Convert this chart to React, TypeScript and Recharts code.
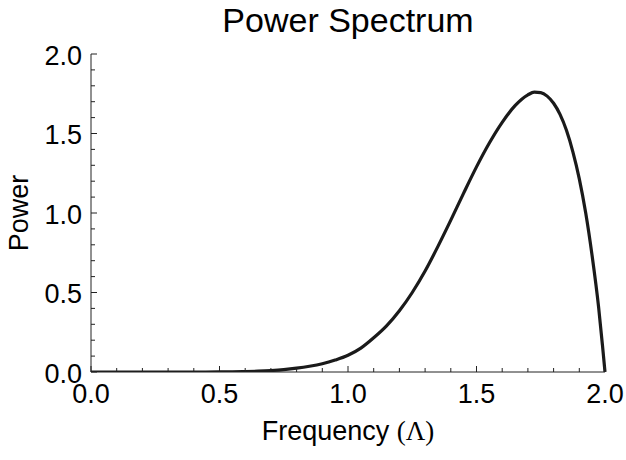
import React from 'react';
import { Line, LineChart, XAxis, YAxis } from 'recharts';

const frequency = [
  0, 0.1, 0.2, 0.3, 0.4, 0.5, 0.55, 0.6, 0.65, 0.7, 0.75, 0.8, 0.85, 0.9, 0.95, 1.0, 1.05, 1.1, 1.15, 1.2,
  1.25, 1.3, 1.35, 1.4, 1.45, 1.5, 1.55, 1.6, 1.65, 1.7, 1.725, 1.75, 1.775, 1.8, 1.825, 1.85, 1.875, 1.9,
  1.925, 1.95, 1.975, 1.99, 2.0,
];
const power = [
  0, 0, 0, 0, 0, 0.0005, 0.001, 0.0025, 0.005, 0.009, 0.015, 0.024, 0.036, 0.052, 0.075, 0.105, 0.15, 0.215,
  0.29, 0.385, 0.5, 0.635, 0.79, 0.955, 1.125, 1.29, 1.44, 1.57, 1.675, 1.743, 1.76, 1.757, 1.735, 1.69, 1.62,
  1.52, 1.385, 1.215, 1.0, 0.73, 0.41, 0.17, 0,
];

const xTicks = [0, 0.1, 0.2, 0.3, 0.4, 0.5, 0.6, 0.7, 0.8, 0.9, 1.0, 1.1, 1.2, 1.3, 1.4, 1.5, 1.6, 1.7, 1.8, 1.9, 2.0];
const yTicks = [0, 0.1, 0.2, 0.3, 0.4, 0.5, 0.6, 0.7, 0.8, 0.9, 1.0, 1.1, 1.2, 1.3, 1.4, 1.5, 1.6, 1.7, 1.8, 1.9, 2.0];
const majorTicks = [0, 0.5, 1.0, 1.5, 2.0];

const data = frequency.map((f, i) => ({ f, p: power[i] }));

const FONT = '"Liberation Sans", Arial, Helvetica, sans-serif';
const AXIS = '#222';
const MAJOR = 6;
const MINOR = 4;

const isMajor = (v: number) => majorTicks.some(m => Math.abs(m - v) < 1e-6);

const BottomTick = ({ x, y, payload }: any) => {
  const major = isMajor(payload.value);
  return (
    <g>
      <line x1={x} x2={x} y1={y} y2={y - (major ? MAJOR : MINOR)} stroke={AXIS} />
      {major && (
        <text x={x} y={y + 31} textAnchor="middle" fontFamily={FONT} fontSize={27} fill="#000">
          {payload.value.toFixed(1)}
        </text>
      )}
    </g>
  );
};

const TopTick = ({ x, y, payload }: any) => {
  const major = isMajor(payload.value);
  return <line x1={x} x2={x} y1={y} y2={y + (major ? MAJOR : MINOR)} stroke={AXIS} />;
};

const LeftTick = ({ x, y, payload }: any) => {
  const major = isMajor(payload.value);
  return (
    <g>
      <line x1={x} x2={x + (major ? MAJOR : MINOR)} y1={y} y2={y} stroke={AXIS} />
      {major && (
        <text x={x - 9} y={y + 10.5} textAnchor="end" fontFamily={FONT} fontSize={27} fill="#000">
          {payload.value.toFixed(1)}
        </text>
      )}
    </g>
  );
};

const RightTick = ({ x, y, payload }: any) => {
  const major = isMajor(payload.value);
  return <line x1={x} x2={x - (major ? MAJOR : MINOR)} y1={y} y2={y} stroke={AXIS} />;
};

export default function App() {
  return (
    <div style={{ position: 'absolute', left: 0, top: 0, width: 626, height: 460, background: '#fff' }}>
      <LineChart width={626} height={460} data={data} margin={{ top: 54, right: 21, bottom: 0, left: 0 }}>
        <XAxis
          dataKey="f"
          type="number"
          domain={[0, 2]}
          ticks={xTicks}
          interval={0}
          height={88}
          tickSize={0}
          tickMargin={0}
          tick={<BottomTick />}
          axisLine={{ stroke: AXIS }}
          tickLine={false}
        />
        <XAxis
          xAxisId="top"
          dataKey="f"
          type="number"
          orientation="top"
          domain={[0, 2]}
          ticks={xTicks}
          interval={0}
          height={0}
          tickSize={0}
          tickMargin={0}
          tick={<TopTick />}
          axisLine={{ stroke: AXIS }}
          tickLine={false}
        />
        <YAxis
          type="number"
          domain={[0, 2]}
          ticks={yTicks}
          interval={0}
          width={91}
          tickSize={0}
          tickMargin={0}
          tick={<LeftTick />}
          axisLine={{ stroke: AXIS }}
          tickLine={false}
          allowDataOverflow
        />
        <YAxis
          yAxisId="right"
          type="number"
          orientation="right"
          domain={[0, 2]}
          ticks={yTicks}
          interval={0}
          width={0}
          tickSize={0}
          tickMargin={0}
          tick={<RightTick />}
          axisLine={{ stroke: AXIS }}
          tickLine={false}
        />
        <Line
          type="monotone"
          dataKey="p"
          stroke="#1a1a1a"
          strokeWidth={3.2}
          dot={false}
          activeDot={false}
          isAnimationActive={false}
        />
      </LineChart>
      <svg
        width={626}
        height={460}
        style={{ position: 'absolute', left: 0, top: 0, pointerEvents: 'none' }}
      >
        <text x={348} y={32} textAnchor="middle" fontFamily={FONT} fontSize={34} fill="#000">
          Power Spectrum
        </text>
        <text x={348} y={440} textAnchor="middle" fontFamily={FONT} fontSize={27} fill="#000">
          Frequency{' '}
          <tspan fontFamily='"Liberation Serif", "Times New Roman", serif'>(Λ)</tspan>
        </text>
        <text
          x={28}
          y={213}
          transform="rotate(-90 28 213)"
          textAnchor="middle"
          fontFamily={FONT}
          fontSize={27}
          fill="#000"
        >
          Power
        </text>
      </svg>
    </div>
  );
}
